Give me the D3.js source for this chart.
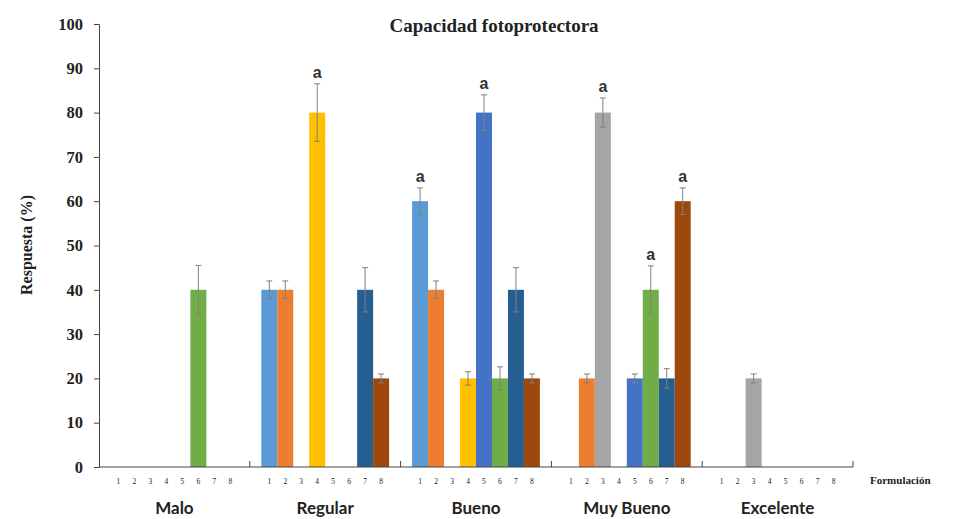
<!DOCTYPE html>
<html><head><meta charset="utf-8">
<script src="https://cdn.jsdelivr.net/npm/d3@7"></script>
<style>body{margin:0;background:#fff}svg{display:block}</style>
</head><body>
<svg id="c" width="971" height="519"></svg>
<script>
const groups = ["Malo","Regular","Bueno","Muy Bueno","Excelente"];
const formulations = ["1","2","3","4","5","6","7","8"];
const colors = ["#5B9BD5","#ED7D31","#A5A5A5","#FFC000","#4472C4","#70AD47","#255E91","#9E480E"];
// values per group, formulations 1..8
const values = [
  [0,0,0,0,0,40,0,0],
  [40,40,0,80,0,0,40,20],
  [60,40,0,20,80,20,40,20],
  [0,20,80,0,20,40,20,60],
  [0,0,20,0,0,0,0,0]
];
const errors = [
  [0,0,0,0,0,5.5,0,0],
  [2,2,0,6.5,0,0,5,1],
  [3,2,0,1.5,4,2.6,5,1],
  [0,1,3.3,0,1,5.4,2.2,3],
  [0,0,1,0,0,0,0,0]
];
const letters = [
  ["","","","","","","",""],
  ["","","","a","","","",""],
  ["a","","","","a","","",""],
  ["","","a","","","a","","a"],
  ["","","","","","","",""]
];
const yTicks = [0,10,20,30,40,50,60,70,80,90,100];

const svg = d3.select("#c");
const L=99, R=853, T=24, B=467;
const x0 = d3.scaleBand().domain(groups).range([L,R]).padding(0);
const pad = 11.5;
const x1 = d3.scaleBand().domain(formulations).range([pad, x0.bandwidth()-pad]).padding(0);
const y = d3.scaleLinear().domain([0,100]).range([B,T]);

// title
svg.append("text").attr("x",494).attr("y",32).attr("text-anchor","middle")
  .attr("font-family","Liberation Serif").attr("font-weight","bold").attr("font-size",19)
  .attr("fill","#222").text("Capacidad fotoprotectora");

// y axis
const ya = svg.append("g").attr("transform",`translate(${L},0)`)
  .call(d3.axisLeft(y).tickValues(yTicks).tickSize(5).tickPadding(11));
ya.select(".domain").attr("stroke","#444");
ya.selectAll(".tick line").attr("stroke","#444");
ya.selectAll(".tick text").attr("font-family","Liberation Serif").attr("font-weight","bold")
  .attr("font-size",16.5).attr("fill","#222");

svg.append("text").attr("transform","translate(32,245) rotate(-90)").attr("text-anchor","middle")
  .attr("font-family","Liberation Serif").attr("font-weight","bold").attr("font-size",16)
  .attr("fill","#222").text("Respuesta (%)");

// bars
const data = [];
groups.forEach((g,gi)=>formulations.forEach((f,fi)=>{
  data.push({g,f,fi,v:values[gi][fi],e:errors[gi][fi],l:letters[gi][fi]});
}));
const bx = d => x0(d.g)+x1(d.f);
svg.append("g").selectAll("rect").data(data.filter(d=>d.v>0)).join("rect")
  .attr("x",bx).attr("width",x1.bandwidth())
  .attr("y",d=>y(d.v)).attr("height",d=>y(0)-y(d.v))
  .attr("fill",d=>colors[d.fi]);

// error bars
const eb = svg.append("g").attr("stroke","#808080").attr("stroke-width",1);
data.filter(d=>d.v>0 && d.e>0).forEach(d=>{
  const cx = bx(d)+x1.bandwidth()/2;
  eb.append("line").attr("x1",cx).attr("x2",cx).attr("y1",y(d.v-d.e)).attr("y2",y(d.v+d.e));
  [d.v-d.e,d.v+d.e].forEach(v=>eb.append("line").attr("x1",cx-3).attr("x2",cx+3).attr("y1",y(v)).attr("y2",y(v)));
});

// letters
svg.append("g").selectAll("text").data(data.filter(d=>d.l)).join("text")
  .attr("x",d=>bx(d)+x1.bandwidth()/2).attr("y",d=>y(d.v+d.e)-6)
  .attr("text-anchor","middle").attr("font-family","Liberation Sans").attr("font-weight","bold")
  .attr("font-size",16).attr("fill","#333").text(d=>d.l);

// x axis
svg.append("line").attr("x1",L).attr("x2",R).attr("y1",B).attr("y2",B).attr("stroke","#444");
groups.forEach(g=>{
  const xe = x0(g)+x0.bandwidth();
  svg.append("line").attr("x1",xe).attr("x2",xe).attr("y1",B).attr("y2",B-6).attr("stroke","#444");
});
// sub labels
svg.append("g").selectAll("text").data(data).join("text")
  .attr("x",d=>bx(d)+x1.bandwidth()/2).attr("y",484).attr("text-anchor","middle")
  .attr("font-family","Liberation Serif").attr("font-size",7.5).attr("fill","#222").text(d=>d.f);
// group labels
svg.append("g").selectAll("text").data(groups).join("text")
  .attr("x",g=>x0(g)+x0.bandwidth()/2).attr("y",514).attr("text-anchor","middle")
  .attr("font-family","Lato").attr("font-weight","bold").attr("font-size",17).attr("fill","#222").text(g=>g);
svg.append("text").attr("x",870).attr("y",484).attr("font-family","Liberation Serif")
  .attr("font-weight","bold").attr("font-size",11).attr("fill","#222").text("Formulación");
</script>
</body></html>
